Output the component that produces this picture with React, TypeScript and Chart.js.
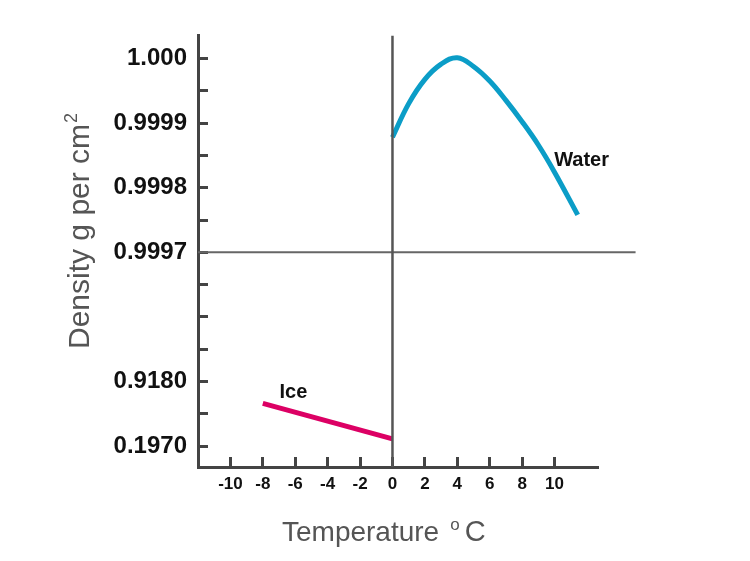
import React, { useEffect, useRef } from "react";
import { Chart, registerables } from "chart.js";

Chart.register(...registerables);

// ---- data ----
const yTickValues = [0, 1, 2, 3, 4, 5, 6, 7, 8, 9, 10, 11, 12];
const yTickLabels = ["0.1970", "", "0.9180", "", "", "", "0.9997", "", "0.9998", "", "0.9999", "", "1.000"];
const xTickValues = [-10, -8, -6, -4, -2, 0, 2, 4, 6, 8, 10];

const waterX = [0, 1, 2, 3, 4, 5, 6, 7, 8, 9, 10, 11.43];
const waterY = [9.56, 10.6, 11.35, 11.82, 12.02, 11.75, 11.3, 10.7, 10.04, 9.32, 8.48, 7.16];

const iceX = [-8, 0];
const iceY = [1.33, 0.23];

const refLevelY = 6; // 0.9997 level
const refLineX = [-12, 15];
const zeroLineX = 0;

const seriesLabels = [
  { text: "Water", x: 11.67, y: 8.83 },
  { text: "Ice", x: -6.11, y: 1.66 },
];

const xTitle = "Temperature";
const xTitleSup = "o";
const xTitleEnd = "C";
const yTitle = "Density g per cm";
const yTitleSup = "2";

const X_MIN = -12;
const X_MAX = 12.62;
const Y_MIN = -0.64;
const Y_MAX = 12.71;

const FONT = "'Liberation Sans', Arial, Helvetica, sans-serif";

const annotationPlugin = {
  id: "annotations",
  afterDatasetsDraw(chart: any) {
    const { ctx, scales } = chart;
    ctx.save();
    ctx.fillStyle = "#111";
    ctx.font = `bold 20px ${FONT}`;
    ctx.textAlign = "center";
    ctx.textBaseline = "middle";
    for (const l of seriesLabels) {
      ctx.fillText(l.text, scales.x.getPixelForValue(l.x), scales.y.getPixelForValue(l.y));
    }
    ctx.restore();
  },
  afterDraw(chart: any) {
    const { ctx } = chart;
    ctx.save();
    ctx.fillStyle = "#555";
    ctx.textAlign = "left";
    ctx.textBaseline = "alphabetic";
    // x title
    const big = `28px ${FONT}`;
    const small = `17px ${FONT}`;
    let x = 282;
    const base = 541;
    ctx.font = big;
    ctx.fillText(xTitle, x, base);
    x += ctx.measureText(xTitle).width + 11;
    ctx.font = small;
    ctx.fillText(xTitleSup, x, base - 11);
    x += ctx.measureText(xTitleSup).width + 5;
    ctx.font = `29px ${FONT}`;
    ctx.fillText(xTitleEnd, x, base);
    // y title (rotated)
    const bigY = `30px ${FONT}`;
    const smallY = `18px ${FONT}`;
    ctx.translate(89, 349);
    ctx.rotate(-Math.PI / 2);
    ctx.font = bigY;
    ctx.fillText(yTitle, 0, 0);
    const w = ctx.measureText(yTitle).width;
    ctx.font = smallY;
    ctx.fillText(yTitleSup, w + 1, -12);
    ctx.restore();
  },
};

export default function App() {
  const ref = useRef<HTMLCanvasElement | null>(null);

  useEffect(() => {
    if (!ref.current) return;
    const chart = new Chart(ref.current, {
      type: "line",
      data: {
        datasets: [
          {
            label: "zero",
            data: [
              { x: zeroLineX, y: Y_MIN },
              { x: zeroLineX, y: Y_MAX },
            ],
            borderColor: "#555",
            borderWidth: 2.5,
            pointRadius: 0,
          },
          {
            label: "ref",
            data: refLineX.map((x) => ({ x, y: refLevelY })),
            borderColor: "#666",
            borderWidth: 2,
            pointRadius: 0,
            clip: false as any,
          },
          {
            label: "Water",
            data: waterX.map((x, i) => ({ x, y: waterY[i] })),
            borderColor: "#0b9dc7",
            borderWidth: 5,
            pointRadius: 0,
            tension: 0.4,
          },
          {
            label: "Ice",
            data: iceX.map((x, i) => ({ x, y: iceY[i] })),
            borderColor: "#dc0064",
            borderWidth: 5,
            pointRadius: 0,
          },
        ],
      },
      options: {
        animation: false,
        responsive: false,
        devicePixelRatio: 1,
        layout: { padding: { left: 0, top: 30, right: 153, bottom: 0 } },
        plugins: { legend: { display: false }, tooltip: { enabled: false } },
        scales: {
          x: {
            type: "linear",
            min: X_MIN,
            max: X_MAX,
            afterFit: (s: any) => {
              s.height = 94;
            },
            afterBuildTicks: (s: any) => {
              s.ticks = xTickValues.map((v) => ({ value: v }));
            },
            grid: {
              display: true,
              drawOnChartArea: false,
              drawTicks: true,
              tickLength: -10,
              color: "#444",
              lineWidth: 3,
            },
            border: { display: true, color: "#444", width: 3 },
            ticks: {
              padding: 17,
              color: "#111",
              font: { family: FONT, weight: "bold", size: 17 },
              maxRotation: 0,
              autoSkip: false,
            },
          },
          y: {
            type: "linear",
            min: Y_MIN,
            max: Y_MAX,
            afterFit: (s: any) => {
              s.width = 198;
            },
            afterBuildTicks: (s: any) => {
              s.ticks = yTickValues.map((v) => ({ value: v }));
            },
            grid: {
              display: true,
              drawOnChartArea: false,
              drawTicks: true,
              tickLength: -10,
              color: "#444",
              lineWidth: 3,
            },
            border: { display: true, color: "#444", width: 3 },
            ticks: {
              padding: 21,
              color: "#111",
              font: { family: FONT, weight: "bold", size: 24 },
              autoSkip: false,
              callback: (v: any) => {
                const i = yTickValues.indexOf(Number(v));
                return i >= 0 ? yTickLabels[i] : "";
              },
            },
          },
        },
      },
      plugins: [annotationPlugin],
    } as any);
    return () => chart.destroy();
  }, []);

  return (
    <div style={{ position: "absolute", left: 0, top: 0, width: 750, height: 561, background: "#fff" }}>
      <canvas ref={ref} width={750} height={561} style={{ width: 750, height: 561 }} />
    </div>
  );
}
